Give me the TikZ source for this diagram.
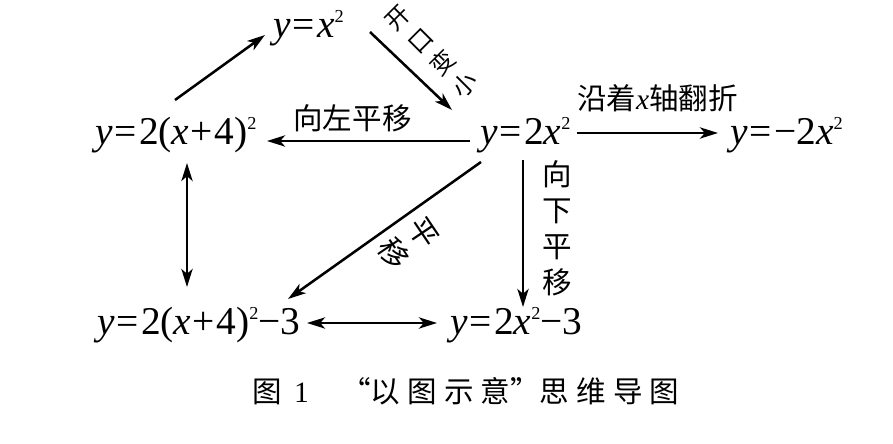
\documentclass[tikz,border=0pt]{standalone}
\usepackage{fontspec}
\setmainfont{Liberation Serif}
\newfontfamily\kai{Noto Sans CJK SC}
\newfontfamily\song{Noto Sans CJK SC}
\usetikzlibrary{arrows.meta}
\newcommand\vx{{\rmfamily\itshape x}}
\newcommand\vy{{\rmfamily\itshape y}}
\newcommand\sq{\raisebox{11pt}{\fontsize{13}{13}\selectfont 2}}
\newcommand\eq{\kern1.5pt=\kern1.5pt}
\newcommand\pl{\kern1pt+\kern1pt}
\newcommand\cs{\hspace{0.24em}}

\begin{document}
\begin{tikzpicture}[x=0.025cm, y=-0.025cm,
    fml/.style={anchor=base west, inner sep=0pt, font=\fontsize{28}{30}\selectfont},
    arr/.style={-{Stealth[length=4.5mm, width=2.8mm, inset=1.2mm]}, line width=1.8pt},
    dbl/.style={{Stealth[length=4.5mm, width=2.8mm, inset=1.2mm]}-{Stealth[length=4.5mm, width=2.8mm, inset=1.2mm]}, line width=1.8pt},
    lab/.style={inner sep=0pt, font=\kai\fontsize{21}{22}\selectfont},
    vlab/.style={inner sep=0pt, align=center, font=\kai\fontsize{17}{22.5}\selectfont},
    vlabw/.style={inner sep=0pt, align=center, font=\kai\fontsize{21}{25.6}\selectfont}
]
    \useasboundingbox (0,0) rectangle (893,444);

    % formulas
    \node[fml] (xsq)  at (273,38)  {\vy\eq\vx\sq};
    \node[fml] (sqL)  at (95,145)  {\vy\eq 2(\vx\pl 4)\sq};
    \node[fml] (sqR)  at (480,145) {\vy\eq 2\vx\sq};
    \node[fml] (neg)  at (730,145) {\vy\eq −2\vx\sq};
    \node[fml] (sqLd) at (97,335)  {\vy\eq 2(\vx\pl 4)\sq−3};
    \node[fml] (sqRd) at (450,335) {\vy\eq 2\vx\sq−3};

    % arrows
    \draw[arr] ([shift={(80,-45)}]sqL.base west) -- ([shift={(-8,-3)}]xsq.base west);
    \draw[arr] ([shift={(97,-6)}]xsq.base west) -- ([shift={(-28,-35)}]sqR.base west)
        node[midway, shift={(21,-19)}, rotate=45, vlab] {开\\口\\变\\小};
    \draw[arr] ([shift={(-10,-4)}]sqR.base west) -- ([shift={(172,-4)}]sqL.base west)
        node[midway, shift={(-16,-23)}, lab] {向左平移};
    \draw[arr] ([shift={(97,-12)}]sqR.base west) -- ([shift={(-12,-12)}]neg.base west)
        node[midway, shift={(10,-35)}, lab] {沿着\vx 轴翻折};
    \draw[dbl] ([shift={(92,18)}]sqL.base west) -- ([shift={(90,-48)}]sqLd.base west);
    \draw[arr] ([shift={(1,17)}]sqR.base west) -- ([shift={(191,-36)}]sqLd.base west)
        node[midway, shift={(24,13)}, rotate=-56, vlabw] {平\\移};
    \draw[arr] ([shift={(43,15)}]sqR.base west) -- ([shift={(73,-28)}]sqRd.base west)
        node[midway, shift={(34,-5)}, vlabw] {向\\下\\平\\移};
    \draw[dbl] ([shift={(210,-12)}]sqLd.base west) -- ([shift={(-13,-12)}]sqRd.base west);

    % caption
    \node[inner sep=0pt, font=\song\fontsize{21}{24}\selectfont] (cap) at (466,391)
        {图\hspace{0.4em}{\rmfamily 1}\hspace{1.1em}“以\cs 图\cs 示\cs 意”思\cs 维\cs 导\cs 图};
\end{tikzpicture}
\end{document}
